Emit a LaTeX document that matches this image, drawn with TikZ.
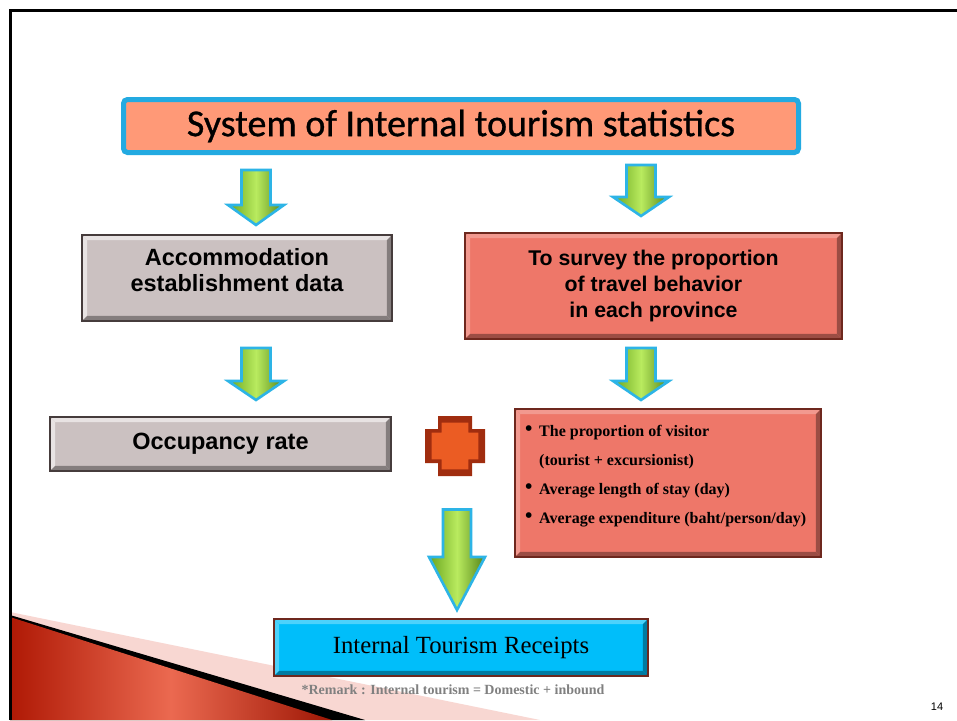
\documentclass[tikz,border=0pt]{standalone}
\usepackage{fontspec}
\setmainfont{Liberation Serif}
\newfontfamily\arialf{Liberation Sans}
\newfontfamily\titlef[FakeBold=0.8]{Carlito}
\usetikzlibrary{calc}
\definecolor{salmonT}{RGB}{255,153,119}
\definecolor{cyanT}{RGB}{35,170,225}
\definecolor{greyB}{RGB}{203,193,193}
\definecolor{greyD}{RGB}{70,60,60}
\definecolor{redB}{RGB}{238,119,105}
\definecolor{redD}{RGB}{110,40,30}
\definecolor{cyanR}{RGB}{0,190,250}
\definecolor{greenL}{RGB}{185,235,95}
\definecolor{greenD}{RGB}{105,165,30}
\definecolor{arrowC}{RGB}{45,180,230}
\definecolor{plusD}{RGB}{160,45,15}
\definecolor{plusL}{RGB}{235,92,35}
\definecolor{decoR}{RGB}{175,25,5}
\definecolor{decoL}{RGB}{235,105,80}
\definecolor{decoP}{RGB}{248,215,210}
\tikzset{
  boxbase/.style={draw, line width=1.6, inner sep=0pt, align=center},
  greybox/.style={boxbase, fill=greyB, draw=greyD},
  redbox/.style={boxbase, fill=redB, draw=redD},
  cyanbox/.style={boxbase, fill=cyanR, draw=redD},
  arialtxt/.style={font=\arialf\bfseries\fontsize{23.5}{26}\selectfont},
}
% bevel on a named node: #1 node, #2 light colour, #3 dark colour, #4 border colour
\newcommand\bevelnode[4]{%
  \fill[#2] (#1.north west) -- (#1.north east) -- ($(#1.north east)+(-5,5)$) -- ($(#1.north west)+(5,5)$) -- cycle;
  \fill[#2] (#1.north west) -- ($(#1.north west)+(5,5)$) -- ($(#1.south west)+(5,-5)$) -- (#1.south west) -- cycle;
  \fill[#3] (#1.south west) -- (#1.south east) -- ($(#1.south east)+(-5,-5)$) -- ($(#1.south west)+(5,-5)$) -- cycle;
  \fill[#3] (#1.north east) -- ($(#1.north east)+(-5,5)$) -- ($(#1.south east)+(-5,-5)$) -- (#1.south east) -- cycle;
  \draw[#4, line width=1.6] (#1.north west) rectangle (#1.south east);
}
% block arrow: cx, top, head y, tip, shaft half width, head half width
\newcommand\blockarrow[6]{%
  \draw[arrowC, line width=2.6, line join=miter, left color=greenD, right color=greenD!80!black, middle color=greenL]
    ({#1-#5},#2) -- ({#1+#5},#2) -- ({#1+#5},#3) -- ({#1+#6},#3) -- (#1,#4) -- ({#1-#6},#3) -- ({#1-#5},#3) -- cycle;
}
\newcommand\bul{\makebox[14pt][l]{\raisebox{1.5pt}{\fontsize{21}{21}\selectfont\textbullet}}}
\begin{document}
\begin{tikzpicture}[x=1pt,y=-1pt]
\useasboundingbox (0,0) rectangle (957,720);
\fill[white] (0,0) rectangle (957,720);
% bottom-left decoration
\fill[decoP] (10,612) -- (540,720) -- (10,720) -- cycle;
\fill[black] (10,615) -- (365,720) -- (10,720) -- cycle;
\shade[left color=decoR, right color=decoR!90!black, middle color=decoL] (10,617) -- (332,720) -- (10,720) -- cycle;
% frame
\draw[line width=3, black] (10.5,720) -- (10.5,10.5) -- (957,10.5);

% title
\node[draw=cyanT, line width=5, fill=salmonT, rounded corners=4, minimum width=675, minimum height=53, inner sep=0pt,
      font=\titlef\fontsize{38}{38}\selectfont] (title) at (461,126) {System of Internal tourism statistics};

% boxes
\node[greybox, minimum width=308, minimum height=84] (accom) at (237,278) {};
\bevelnode{accom}{white!55!greyB}{greyB!65!black}{greyD}
\node[arialtxt, align=center] at ($(accom)+(0,-8)$) {Accommodation\\establishment data};

\node[redbox, minimum width=375, minimum height=104] (survey) at (653.5,286) {};
\bevelnode{survey}{white!25!redB}{redB!65!black}{redD}
\node[font=\arialf\bfseries\fontsize{21.3}{26}\selectfont, align=center] at ($(survey)+(0,0)$) {To survey the proportion\\of travel behavior\\in each province};

\node[greybox, minimum width=339, minimum height=52] (occ) at (220.5,444) {};
\bevelnode{occ}{white!55!greyB}{greyB!65!black}{greyD}
\node[arialtxt] at ($(occ)+(0,0)$) {Occupancy rate};

\node[redbox, minimum width=304, minimum height=146] (bullets) at (668,483) {};
\bevelnode{bullets}{white!25!redB}{redB!65!black}{redD}
\node[anchor=north west, align=left, inner sep=0pt, font=\bfseries\fontsize{16}{29}\selectfont] (btext) at (525,425)
 {\bul The proportion of visitor\\
  \makebox[14pt][l]{}(tourist + excursionist)\\
  \bul Average length of stay (day)\\
  \bul Average expenditure (baht/person/day)};

\node[cyanbox, minimum width=372, minimum height=55] (receipts) at (461,647.5) {};
\bevelnode{receipts}{white!30!cyanR}{cyanR!65!black}{redD}
\node[font=\fontsize{24.7}{24.7}\selectfont] at (receipts) {Internal Tourism Receipts};

% arrows
\blockarrow{256}{170}{205}{225}{14.5}{28}
\blockarrow{641}{165}{197}{216}{14.5}{28}
\blockarrow{256}{348}{381}{400}{14.5}{28}
\blockarrow{641}{348}{381}{400}{14.5}{28}
\blockarrow{457}{509.5}{557}{610}{14}{28}

% plus
\begin{scope}[shift={(455,446)}]
\fill[plusD] (-17,-30) -- (17,-30) -- (17,-17) -- (30,-17) -- (30,17) -- (17,17) -- (17,30) -- (-17,30) -- (-17,17) -- (-30,17) -- (-30,-17) -- (-17,-17) -- cycle;
\fill[plusL, scale=0.78] (-17,-30) -- (17,-30) -- (17,-17) -- (30,-17) -- (30,17) -- (17,17) -- (17,30) -- (-17,30) -- (-17,17) -- (-30,17) -- (-30,-17) -- (-17,-17) -- cycle;
\end{scope}

% remark and slide number
\node[font=\bfseries\fontsize{14}{14}\selectfont, text=gray] (remark) at (453,690) {*Remark : Internal tourism = Domestic + inbound};
\node[font=\arialf\fontsize{11}{11}\selectfont] (num) at (937,707) {14};
\end{tikzpicture}
\end{document}
